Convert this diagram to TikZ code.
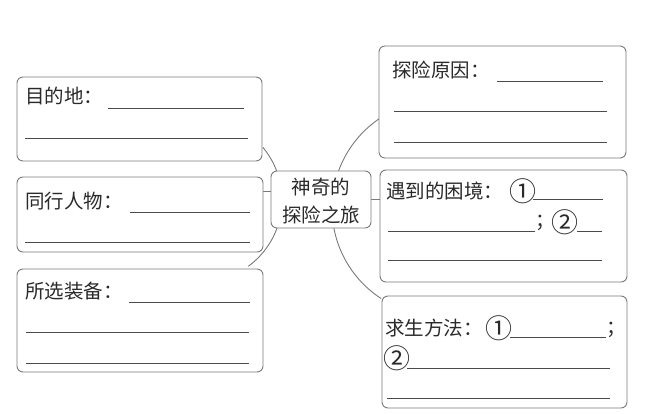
\documentclass[tikz,border=0pt]{standalone}
\usepackage{fontspec}
\newfontfamily\cjk{Noto Sans CJK SC}
\usetikzlibrary{backgrounds}
\definecolor{boxc}{HTML}{7A7A7A}
\definecolor{txtc}{HTML}{2A2A2A}
\definecolor{linec}{HTML}{4A4A4A}
\begin{document}
\begin{tikzpicture}[x=1pt,y=1pt,
  box/.style={draw=boxc, line width=0.9pt, rounded corners=6pt, fill=white, inner sep=0pt, outer sep=0pt},
  lbl/.style={font=\cjk\fontsize{19.5}{22}\selectfont, text=txtc, inner sep=0pt, anchor=west},
  glyph/.style={font=\cjk\fontsize{19.5}{22}\selectfont, text=txtc, inner sep=0pt, anchor=center},
  circ/.style={font=\cjk\fontsize{27}{28}\selectfont, text=txtc, inner sep=0pt, anchor=center},
  blank/.style={draw=linec, line width=0.8pt},
  conn/.style={draw=boxc, line width=0.9pt}]
\useasboundingbox (0,0) rectangle (645,414);
% boxes
\node[box, minimum width=245pt, minimum height=84pt] (L1) at (139.5,295) {};
\node[box, minimum width=246pt, minimum height=75pt] (L2) at (140,199.5) {};
\node[box, minimum width=246pt, minimum height=103pt] (L3) at (140,93.5) {};
\node[box, minimum width=100pt, minimum height=57pt] (C) at (321,214.5) {};
\node[box, minimum width=247pt, minimum height=112pt] (R1) at (502.5,312) {};
\node[box, minimum width=247pt, minimum height=112pt] (R2) at (503.5,188) {};
\node[box, minimum width=245pt, minimum height=112pt] (R3) at (504.5,62) {};
% center text
\node[glyph, align=center, font=\cjk\fontsize{19.5}{28}\selectfont] (ct) at (321,213) {神奇的\\探险之旅};
% left texts
\node[lbl] (t1) at (25,318) {目的地：};
\draw[blank] (108,306) -- (244,306);
\draw[blank] (25,276) -- (248,276);
\node[lbl] (t2) at (25,213) {同行人物：};
\draw[blank] (130,202) -- (250,202);
\draw[blank] (25,172) -- (250,172);
\node[lbl] (t3) at (25,123) {所选装备：};
\draw[blank] (129,112) -- (250,112);
\draw[blank] (26,82) -- (249,82);
\draw[blank] (26,51) -- (249,51);
% right texts
\node[lbl] (t4) at (392,344) {探险原因：};
\draw[blank] (497,333) -- (603,333);
\draw[blank] (394,303) -- (607,303);
\draw[blank] (394,272) -- (607,272);
\node[lbl] (t5) at (386,223) {遇到的困境：};
\node[circ] (c51) at (523,223) {①};
\draw[blank] (533,215) -- (603,215);
\draw[blank] (388,183) -- (535,183);
\node[lbl] (s5) at (535,191) {；};
\node[circ] (c52) at (565,192) {②};
\draw[blank] (577,183) -- (602,183);
\draw[blank] (388,154) -- (602,154);
\node[lbl] (t6) at (385,86) {求生方法：};
\node[circ] (c61) at (499,86) {①};
\draw[blank] (510,77) -- (606,77);
\node[lbl] (s6) at (606,84) {；};
\node[circ] (c62) at (397,56) {②};
\draw[blank] (407,46) -- (610,46);
\draw[blank] (387,16) -- (610,16);
% connectors
\begin{scope}[on background layer]
\fill[white] (0,0) rectangle (645,414);
\draw[conn] (440,206) ++(124:108) arc[start angle=124, end angle=237, radius=108];
\draw[conn] (200,214) ++(40:82) arc[start angle=40, end angle=-54, radius=82];
\draw[conn] (L2.east |- 0,223) -- (C.west |- 0,223);
\draw[conn] (C.east |- 0,215) -- (R2.west |- 0,215);
\end{scope}
\end{tikzpicture}
\end{document}
